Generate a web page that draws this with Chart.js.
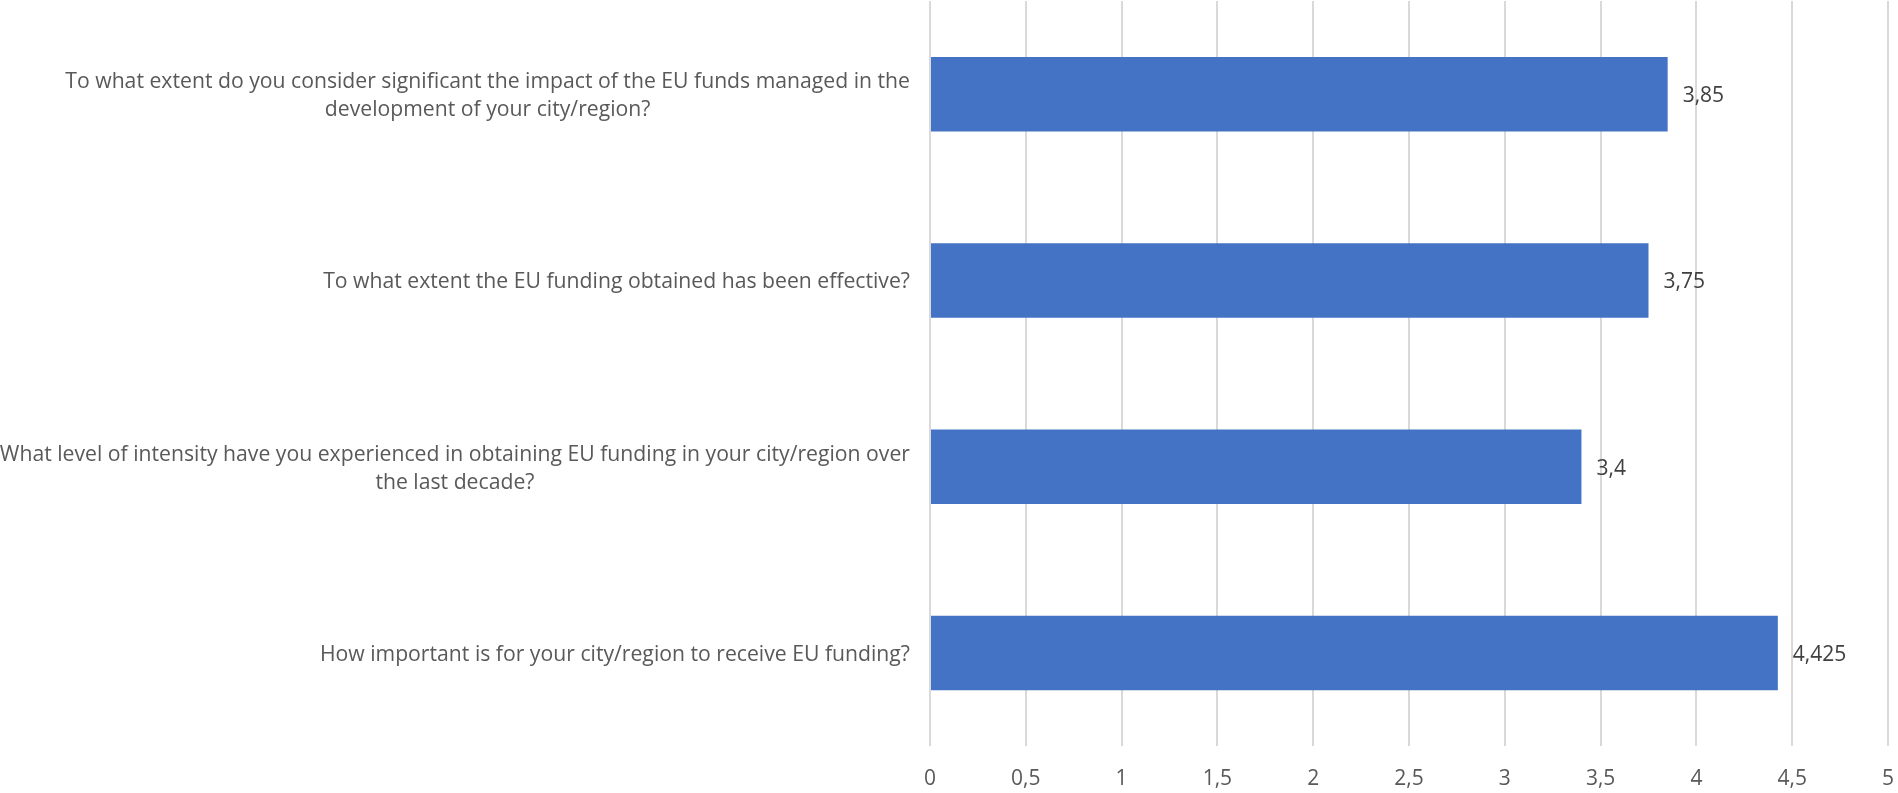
<!DOCTYPE html>
<html>
<head>
<meta charset="utf-8">
<script src="https://cdn.jsdelivr.net/npm/chart.js@4/dist/chart.umd.min.js"></script>
<style>
  html, body { margin: 0; padding: 0; background: #fff; }
  #wrap { width: 1898px; height: 793px; position: relative; }
</style>
</head>
<body>
<div id="wrap"><canvas id="surveyChart"></canvas></div>
<script>
// questions, top to bottom, split into lines the way the reference wraps them
var questions = [
  ['To what extent do you consider significant the impact of the EU funds managed in the', 'development of your city/region?'],
  ['To what extent the EU funding obtained has been effective?'],
  ['What level of intensity have you experienced in obtaining EU funding in your city/region over', 'the last decade?'],
  ['How important is for your city/region to receive EU funding?']
];
var scores = [3.85, 3.75, 3.4, 4.425];
var axisMin = 0;
var axisMax = 5;
var axisStep = 0.5;

var FONT = '"Open Sans", "Noto Sans", sans-serif';

function comma(v) {
  return String(v).replace('.', ',');
}

// draws the question labels: block right aligned to the axis, lines centred inside the block
var questionLabels = {
  id: 'questionLabels',
  afterDraw: function(chart) {
    var ctx = chart.ctx;
    var yScale = chart.scales.y;
    ctx.save();
    ctx.font = '21.2px ' + FONT;
    ctx.fillStyle = '#595959';
    ctx.textAlign = 'center';
    ctx.textBaseline = 'middle';
    var lineH = 28;
    var rightEdge = chart.chartArea.left - 20;
    questions.forEach(function(lines, i) {
      var yc = yScale.getPixelForTick(i);
      var w = 0;
      lines.forEach(function(l) { w = Math.max(w, ctx.measureText(l).width); });
      var xc = rightEdge - w / 2;
      var y0 = yc - (lines.length - 1) * lineH / 2 + 2;
      lines.forEach(function(l, j) {
        ctx.fillText(l, xc, y0 + j * lineH);
      });
    });
    ctx.restore();
  }
};

// value labels at the end of each bar
var valueLabels = {
  id: 'valueLabels',
  afterDatasetsDraw: function(chart) {
    var ctx = chart.ctx;
    var meta = chart.getDatasetMeta(0);
    ctx.save();
    ctx.font = '21px ' + FONT;
    ctx.fillStyle = '#404040';
    ctx.textAlign = 'left';
    ctx.textBaseline = 'middle';
    meta.data.forEach(function(bar, i) {
      ctx.fillText(comma(scores[i]), bar.x + 15, bar.y + 2);
    });
    ctx.restore();
  }
};

var ctx = document.getElementById('surveyChart');
var chart = new Chart(ctx, {
  type: 'bar',
  data: {
    labels: questions,
    datasets: [{
      data: scores,
      backgroundColor: '#4472C4',
      borderWidth: 0,
      barPercentage: 0.4,
      categoryPercentage: 1
    }]
  },
  options: {
    indexAxis: 'y',
    responsive: true,
    maintainAspectRatio: false,
    animation: false,
    layout: { padding: { left: 0, right: 10, top: 1, bottom: 0 } },
    plugins: {
      legend: { display: false },
      tooltip: { enabled: false }
    },
    scales: {
      x: {
        min: axisMin,
        max: axisMax,
        border: { display: false },
        grid: { color: '#D9D9D9', lineWidth: 2, drawTicks: false },
        ticks: {
          stepSize: axisStep,
          padding: 20,
          color: '#595959',
          font: { family: FONT, size: 21 },
          callback: function(v) { return comma(v); }
        },
        afterFit: function(scale) {
          scale.height = 47;
          scale.paddingRight = 0;
          scale.paddingLeft = 0;
        }
      },
      y: {
        border: { display: false },
        grid: { display: false },
        ticks: { display: false },
        afterFit: function(scale) { scale.width = 930; }
      }
    }
  },
  plugins: [questionLabels, valueLabels]
});
</script>
</body>
</html>
